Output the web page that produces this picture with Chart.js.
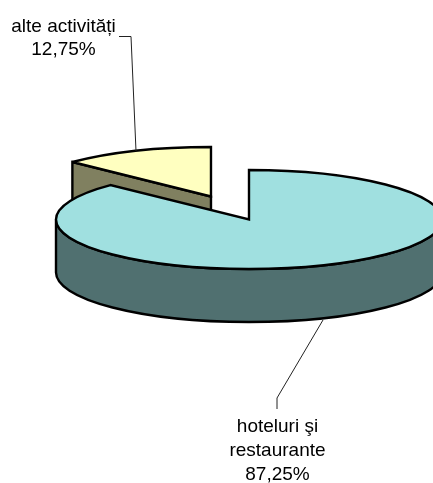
<!DOCTYPE html>
<html lang="ro">
    <head>
        <meta charset="UTF-8">
        <title>Pie 3D</title>
        <script src="https://cdn.jsdelivr.net/npm/chart.js"></script>
        <style>
            body { margin: 0; background: #fff; }
            canvas { display: block; }
        </style>
    </head>
    <body>
        <canvas id="pie" width="433" height="483"></canvas>

        <script>
        // small slice first so the big one is painted over it
        const categories = ["alte activități", "hoteluri şi restaurante"];
        const shares = [12.75, 87.25];
        const shareLabels = ["12,75%", "87,25%"];
        const topColors = ["#FFFFC0", "#A0E0E0"];
        const sideColors = ["#808060", "#507070"];

        // how the flat pie is turned into a tilted disc
        const squash = 0.2565;
        const centerY = 219.5;
        const depth = 53;
        const explode = [97.5, 0];

        function flatY(chart, y) {
            const mid = (chart.chartArea.top + chart.chartArea.bottom) / 2;
            return centerY + (y - mid) * squash;
        }

        function outlineStyle(ctx) {
            ctx.lineWidth = 2.4;
            ctx.strokeStyle = "#000";
            ctx.lineJoin = "miter";
            ctx.miterLimit = 3;
        }

        const pie3d = {
            id: "pie3d",
            afterDatasetsUpdate(chart) {
                // own explode: the arc "offset" option also grows the radius of small slices
                chart.getDatasetMeta(0).data.forEach((arc, i) => {
                    const half = (arc.startAngle + arc.endAngle) / 2;
                    arc.x += Math.cos(half) * explode[i];
                    arc.y += Math.sin(half) * explode[i];
                });
            },
            beforeDatasetsDraw(chart) {
                const ctx = chart.ctx;
                const arcs = chart.getDatasetMeta(0).data;
                outlineStyle(ctx);

                // cut face of the small slice
                const small = arcs[0];
                const sy = flatY(chart, small.y);
                const r0 = small.outerRadius;
                const ex = small.x + Math.cos(small.startAngle) * r0;
                const ey = sy + Math.sin(small.startAngle) * r0 * squash;
                ctx.beginPath();
                ctx.moveTo(ex, ey);
                ctx.lineTo(small.x, sy);
                ctx.lineTo(small.x, sy + depth);
                ctx.lineTo(ex, ey + depth);
                ctx.closePath();
                ctx.fillStyle = sideColors[0];
                ctx.fill();
                ctx.stroke();

                // front wall of the big slice
                const big = arcs[1];
                const by = flatY(chart, big.y);
                const r1 = big.outerRadius;
                ctx.beginPath();
                ctx.ellipse(big.x, by, r1, r1 * squash, 0, 0, Math.PI);
                ctx.ellipse(big.x, by + depth, r1, r1 * squash, 0, Math.PI, 0, true);
                ctx.closePath();
                ctx.fillStyle = sideColors[1];
                ctx.fill();
                ctx.stroke();

                // the library paints the slices flat, so squash the canvas meanwhile
                ctx.save();
                const mid = (chart.chartArea.top + chart.chartArea.bottom) / 2;
                ctx.translate(0, centerY);
                ctx.scale(1, squash);
                ctx.translate(0, -mid);
            },
            afterDatasetsDraw(chart) {
                const ctx = chart.ctx;
                ctx.restore();

                // outlines here, a squashed stroke would get thin
                chart.getDatasetMeta(0).data.forEach(arc => {
                    const y = flatY(chart, arc.y);
                    const r = arc.outerRadius;
                    ctx.beginPath();
                    ctx.moveTo(arc.x, y);
                    ctx.ellipse(arc.x, y, r, r * squash, 0, arc.startAngle, arc.endAngle);
                    ctx.closePath();
                    outlineStyle(ctx);
                    ctx.stroke();
                });
            },
            afterDraw(chart) {
                const ctx = chart.ctx;

                // leader lines
                ctx.lineWidth = 1;
                ctx.strokeStyle = "#222";
                ctx.beginPath();
                ctx.moveTo(119, 36.5);
                ctx.lineTo(131, 36.5);
                ctx.lineTo(136, 151);
                ctx.moveTo(323, 320);
                ctx.lineTo(277, 398);
                ctx.lineTo(277, 409);
                ctx.stroke();

                // labels
                ctx.fillStyle = "#000";
                ctx.font = '19px "Liberation Sans"';
                ctx.textAlign = "center";
                ctx.textBaseline = "alphabetic";
                ctx.fillText(categories[0], 63.5, 32);
                ctx.fillText(shareLabels[0], 63.5, 55);
                const words = categories[1].split(" ");
                ctx.fillText(words[0] + " " + words[1], 277.5, 431.5);
                ctx.fillText(words[2], 277.5, 455.5);
                ctx.fillText(shareLabels[1], 277.5, 479.5);
            }
        };

        new Chart(document.getElementById("pie"), {
            type: "pie",
            data: {
                labels: categories,
                datasets: [{
                    data: shares,
                    backgroundColor: topColors,
                    borderWidth: 0,
                    clip: false
                }]
            },
            options: {
                responsive: false,
                animation: false,
                radius: 193,
                rotation: -shares[0] / 100 * 360,
                layout: { padding: { left: 65 } },
                plugins: {
                    legend: { display: false },
                    tooltip: { enabled: false }
                }
            },
            plugins: [pie3d]
        });
        </script>
    </body>
</html>
